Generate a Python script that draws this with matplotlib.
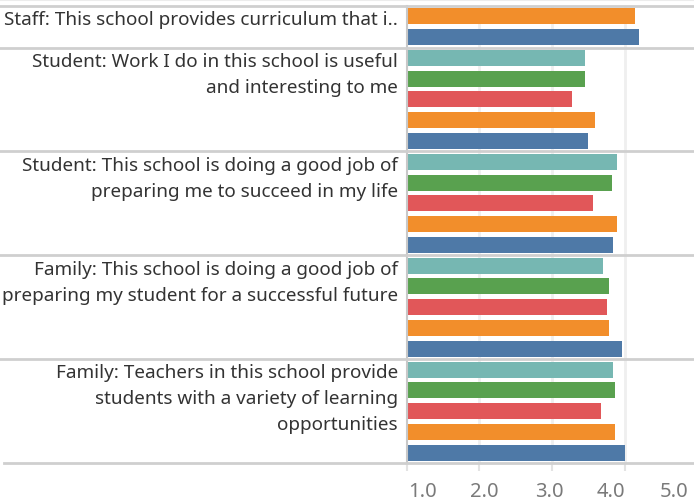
import matplotlib.pyplot as plt
from matplotlib.transforms import blended_transform_factory

plt.rcParams['font.family'] = ['Noto Sans', 'DejaVu Sans']

# questions, each shown as wrapped lines
questions = [
    ["Staff: This school provides curriculum that i.."],
    ["Student: Work I do in this school is useful", "and interesting to me"],
    ["Student: This school is doing a good job of", "preparing me to succeed in my life"],
    ["Family: This school is doing a good job of", "preparing my student for a successful future"],
    ["Family: Teachers in this school provide", "students with a variety of learning", "opportunities"],
]
series_colors = ["#76b7b2", "#59a14f", "#e15759", "#f28e2b", "#4e79a7"]
# one value per series (None = not asked)
values = [
    [None, None, None, 4.14, 4.19],
    [3.45, 3.45, 3.28, 3.59, 3.49],
    [3.89, 3.82, 3.56, 3.90, 3.84],
    [3.70, 3.79, 3.75, 3.79, 3.96],
    [3.84, 3.86, 3.67, 3.86, 4.00],
]
grid_vals = [2, 3, 4]
tick_marks = [1, 2, 3, 4]
tick_labels = ["1.0", "2.0", "3.0", "4.0", "5.0"]
tick_label_pos = [1.22, 2.07, 2.96, 3.81, 4.68]

W, H = 694, 501
fig = plt.figure(figsize=(W / 100, H / 100), dpi=100)
ax = fig.add_axes([406.6 / W, (H - 463) / H, 290.8 / W, 457 / H])

n_slots = sum(sum(v is not None for v in row) for row in values)
ax.set_xlim(1, 5)
ax.set_ylim(n_slots, 0)

for g in grid_vals:
    ax.axvline(g, color="#efefef", lw=2, zorder=0)

sep = "#cfcfcf"
lab_tr = blended_transform_factory(ax.transAxes, ax.transData)
slot = 0
for qi, row in enumerate(values):
    top = slot
    ax.axhline(top, xmin=-1.5, xmax=1.1, color=sep, lw=2, clip_on=False, zorder=3)
    for si, v in enumerate(row):
        if v is None:
            continue
        ax.barh(slot + 0.5, v - 1, left=1, height=0.77, color=series_colors[si], zorder=2)
        slot += 1
    for li, line in enumerate(questions[qi]):
        ax.annotate(line, xy=(-0.03, top), xycoords=lab_tr,
                    xytext=(0, -10.3 - 18.7 * li), textcoords="offset points",
                    ha="right", va="center", fontsize=13.6, color="#333333")
ax.axhline(n_slots, xmin=-1.385, xmax=1.1, color=sep, lw=2, clip_on=False, zorder=3)
ax.axhline(-6 / 20.8, xmin=-1.5, xmax=1.1, color="#ececec", lw=1.5, clip_on=False)

for s in ["top", "right", "bottom"]:
    ax.spines[s].set_visible(False)
ax.spines["left"].set_color("#c8c8c8")
ax.spines["left"].set_linewidth(1.5)

ax.set_yticks([])
ax.set_xticks(tick_label_pos, tick_labels)
ax.set_xticks(tick_marks, minor=True)
ax.tick_params(axis="x", which="major", length=0, pad=14, labelsize=14.5, labelcolor="#7a7a7a")
ax.tick_params(axis="x", which="minor", length=6, width=1.5, color="#e3e3e3")

fig.savefig("out.png", dpi=100)
